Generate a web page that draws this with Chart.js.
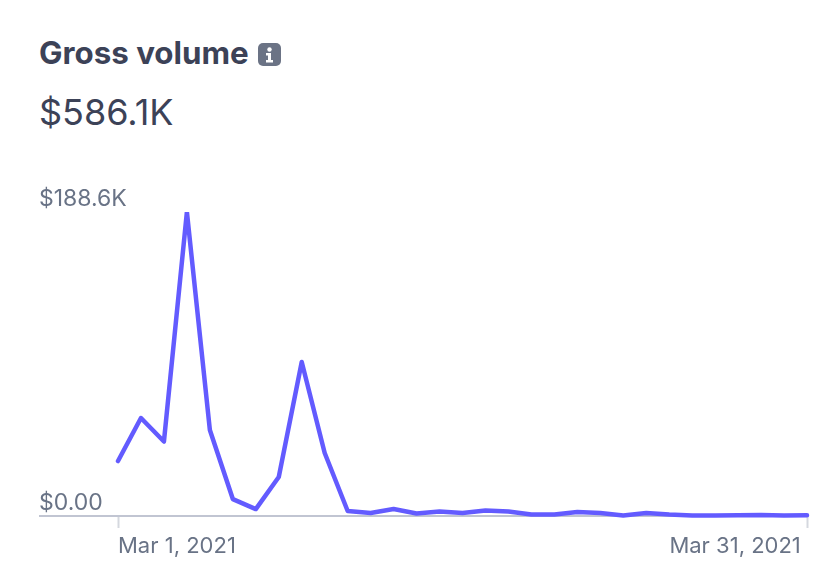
<!DOCTYPE html>
<html>
<head>
<meta charset="utf-8">
<title>Gross volume</title>
<script src="https://cdn.jsdelivr.net/npm/chart.js@4"></script>
<style>
    html, body { margin: 0; padding: 0; background: #fff; }
    body { position: relative; width: 832px; height: 570px; overflow: hidden; font-family: Inter, sans-serif; }
    #chart-wrap { position: absolute; left: 0; top: 0; width: 832px; height: 570px; }
    .title { position: absolute; left: 39px; top: 36px; font-size: 31.3px; line-height: 34px; font-weight: 700; color: #3c4257; white-space: nowrap; }
    .info { position: absolute; left: 258px; top: 43px; width: 23px; height: 23px; }
    .total { position: absolute; left: 39px; top: 92px; font-size: 36px; line-height: 40px; font-weight: 400; color: #3c4257; white-space: nowrap; }
</style>
</head>
<body>
<div class="title">Gross volume</div>
<svg class="info" viewBox="0 0 23 23">
    <rect width="23" height="23" rx="5" fill="#6b7385"/>
    <circle cx="11.5" cy="6.5" r="2.2" fill="#fff"/>
    <path d="M8 10h5v7h2v2.5H8V17h2v-4.5H8z" fill="#fff"/>
</svg>
<div class="total">$586.1K</div>
<div id="chart-wrap"><canvas id="volumeChart"></canvas></div>

<script>
// Daily gross volume, in thousands of dollars
const days = ['Mar 1, 2021', 'Mar 2, 2021', 'Mar 3, 2021', 'Mar 4, 2021', 'Mar 5, 2021', 'Mar 6, 2021',
              'Mar 7, 2021', 'Mar 8, 2021', 'Mar 9, 2021', 'Mar 10, 2021', 'Mar 11, 2021', 'Mar 12, 2021',
              'Mar 13, 2021', 'Mar 14, 2021', 'Mar 15, 2021', 'Mar 16, 2021', 'Mar 17, 2021', 'Mar 18, 2021',
              'Mar 19, 2021', 'Mar 20, 2021', 'Mar 21, 2021', 'Mar 22, 2021', 'Mar 23, 2021', 'Mar 24, 2021',
              'Mar 25, 2021', 'Mar 26, 2021', 'Mar 27, 2021', 'Mar 28, 2021', 'Mar 29, 2021', 'Mar 30, 2021',
              'Mar 31, 2021'];
const volume = [34.1, 60.8, 46.2, 188.6, 53.4, 10.5, 4.3, 24.2, 95.5, 39.1, 3.1,
                1.9, 4.3, 1.6, 2.8, 1.9, 3.4, 2.8, 0.9, 0.9, 2.5,
                1.9, 0.3, 1.9, 0.9, 0.3, 0.3, 0.5, 0.6, 0.3, 0.4];
const yTicks = [0, 188.6];
const yTickLabels = ['$0.00', '$188.6K'];

new Chart(document.getElementById('volumeChart'), {
    type: 'line',
    data: {
        labels: days,
        datasets: [{
            data: volume,
            borderColor: '#635bff',
            borderWidth: 4.5,
            borderJoinStyle: 'round',
            borderCapStyle: 'round',
            fill: false,
            tension: 0,
            pointRadius: 0,
            // flat cut at the top of the plot only
            clip: { left: false, top: 0, right: false, bottom: false }
        }]
    },
    options: {
        responsive: true,
        maintainAspectRatio: false,
        animation: false,
        layout: { padding: { left: 39, right: 25, top: 212, bottom: 0 } },
        plugins: {
            legend: { display: false },
            tooltip: { enabled: false }
        },
        scales: {
            x: {
                type: 'category',
                offset: false,
                border: { display: false },
                grid: {
                    drawOnChartArea: false,
                    drawTicks: true,
                    tickLength: 12,
                    tickColor: '#d5d8df',
                    tickWidth: 2
                },
                ticks: {
                    autoSkip: false,
                    maxRotation: 0,
                    align: 'inner',
                    padding: 5,
                    color: '#697386',
                    font: { family: 'Inter, sans-serif', size: 22 },
                    callback: function(value, index) {
                        if (index === 0) return days[index];
                        // trailing space keeps the last label off the tick
                        return index === days.length - 1 ? days[index] + ' ' : null;
                    }
                },
                afterFit: function(scale) { scale.height = 54; }
            },
            y: {
                min: 0,
                max: 188.6,
                border: { display: false },
                grid: {
                    color: ctx => ctx.tick && ctx.tick.value === 0 ? '#c1c5d2' : 'transparent',
                    tickColor: ctx => ctx.tick && ctx.tick.value === 0 ? '#c1c5d2' : 'transparent',
                    lineWidth: 2,
                    tickLength: 79
                },
                ticks: {
                    mirror: true,
                    padding: -79,
                    labelOffset: -13,
                    color: '#697386',
                    font: { family: 'Inter, sans-serif', size: 23 },
                    callback: function(value) { return yTickLabels[yTicks.indexOf(value)]; }
                },
                afterBuildTicks: function(scale) { scale.ticks = yTicks.map(v => ({ value: v })); },
                afterFit: function(scale) { scale.width = 79; }
            }
        }
    }
});
</script>
</body>
</html>
